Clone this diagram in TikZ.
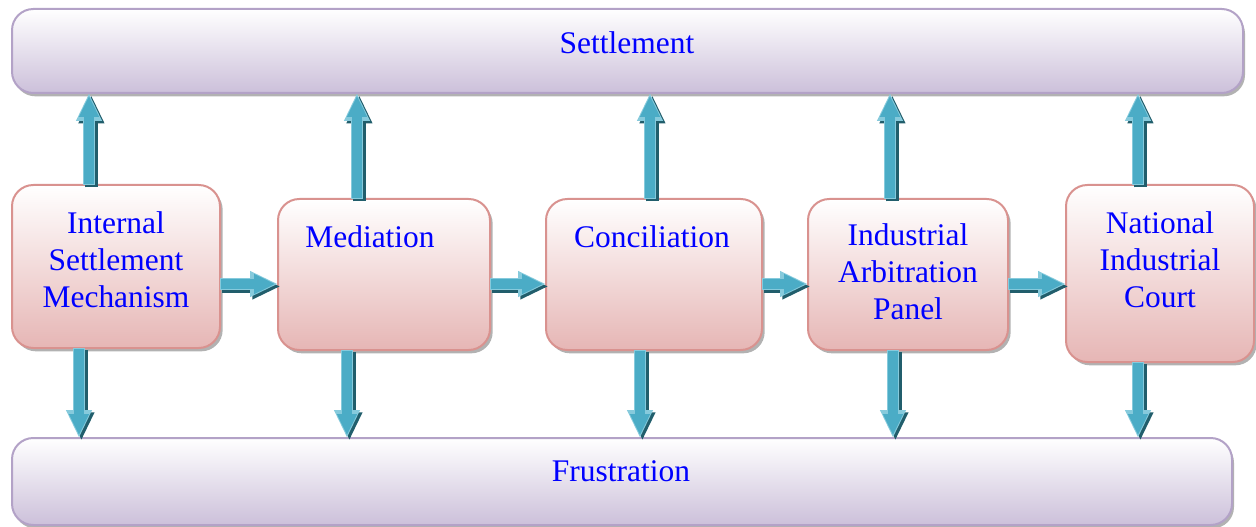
\documentclass[tikz,border=0pt]{standalone}
\usepackage{fontspec}
\setmainfont{Liberation Serif}
\usetikzlibrary{arrows.meta,shadows,calc}
\definecolor{boxbot}{HTML}{E6B6B5}
\definecolor{boxborder}{HTML}{D9928F}
\definecolor{barbot}{HTML}{CCC0DA}
\definecolor{barborder}{HTML}{B3A2C7}
\definecolor{arrteal}{HTML}{4BACC6}
\definecolor{arrlight}{HTML}{86CADC}
\definecolor{arrdark}{HTML}{215E6C}
\definecolor{txtblue}{HTML}{0000FF}
\newcommand\blockarrow[2]{%
  \draw[arrshadow] #1 -- #2;
  \draw[arrouter] #1 -- #2;
  \draw[arrinner] #1 -- #2;}
\begin{document}
\begin{tikzpicture}[x=0.75pt,y=-0.75pt,
  stagebox/.style={draw=boxborder, line width=1.5pt, rounded corners=16pt,
    top color=white, bottom color=boxbot, inner sep=0pt, outer sep=0pt,
    drop shadow={shadow xshift=2pt, shadow yshift=-2.5pt, fill=gray!60, opacity=1}},
  barbox/.style={draw=barborder, line width=1.5pt, rounded corners=16pt,
    top color=white, bottom color=barbot, inner sep=0pt, outer sep=0pt,
    drop shadow={shadow xshift=1.5pt, shadow yshift=-2.5pt, fill=gray!60, opacity=1}},
  lbl/.style={text=txtblue, align=center, inner sep=0pt,
    font=\fontsize{23.6}{27.75}\selectfont},
  arrshadow/.style={draw=arrdark, line width=9.5pt, -{Triangle[width=18pt,length=21pt]},
    transform canvas={shift={(1.8pt,-1.8pt)}}},
  arrouter/.style={draw=arrlight, line width=9.5pt, -{Triangle[width=18pt,length=21pt]}},
  arrinner/.style={draw=arrteal, line width=7pt, -{Triangle[width=14pt,length=16pt]},
    shorten >=2pt, shorten <=0.8pt}]
\useasboundingbox (0,0) rectangle (1256,527);
% bars
\node[barbox, minimum width=1231*0.75pt, minimum height=84*0.75pt] (S) at (627.5,51) {};
\node[barbox, minimum width=1220*0.75pt, minimum height=87*0.75pt] (F) at (622,481.5) {};
% stage boxes
\node[stagebox, minimum width=208*0.75pt, minimum height=163*0.75pt] (b1) at (116,266.5) {};
\node[stagebox, minimum width=212*0.75pt, minimum height=151*0.75pt] (b2) at (384,274.5) {};
\node[stagebox, minimum width=216*0.75pt, minimum height=151*0.75pt] (b3) at (654,274.5) {};
\node[stagebox, minimum width=200*0.75pt, minimum height=151*0.75pt] (b4) at (908,274.5) {};
\node[stagebox, minimum width=188*0.75pt, minimum height=177*0.75pt] (b5) at (1160,273.5) {};
% labels
\node[lbl] (tS) at (627,43) {Settlement};
\node[lbl] (tF) at (621,471) {Frustration};
\node[lbl] (t1) at (116,260) {Internal\\Settlement\\Mechanism};
\node[lbl] (t2) at (370,237) {Mediation};
\node[lbl] (t3) at (652,237) {Conciliation};
\node[lbl] (t4) at (908,272) {Industrial\\Arbitration\\Panel};
\node[lbl] (t5) at (1160,260) {National\\Industrial\\Court};
% arrow positions
\coordinate (u1) at (89,0);
\coordinate (u2) at (357,0);
\coordinate (u3) at (650,0);
\coordinate (u4) at (890,0);
\coordinate (u5) at (1138,0);
\coordinate (d1) at (79,0);
\coordinate (d2) at (347,0);
\coordinate (d3) at (640,0);
\coordinate (d4) at (893,0);
\coordinate (d5) at (1138,0);
\coordinate (h) at (0,284);
% up arrows
\blockarrow{(b1.north -| u1)}{(S.south -| u1)}
\blockarrow{(b2.north -| u2)}{(S.south -| u2)}
\blockarrow{(b3.north -| u3)}{(S.south -| u3)}
\blockarrow{(b4.north -| u4)}{(S.south -| u4)}
\blockarrow{(b5.north -| u5)}{(S.south -| u5)}
% down arrows
\blockarrow{(b1.south -| d1)}{(F.north -| d1)}
\blockarrow{(b2.south -| d2)}{(F.north -| d2)}
\blockarrow{(b3.south -| d3)}{(F.north -| d3)}
\blockarrow{(b4.south -| d4)}{(F.north -| d4)}
\blockarrow{(b5.south -| d5)}{(F.north -| d5)}
% horizontal arrows
\blockarrow{(b1.east |- h)}{(b2.west |- h)}
\blockarrow{(b2.east |- h)}{(b3.west |- h)}
\blockarrow{(b3.east |- h)}{(b4.west |- h)}
\blockarrow{(b4.east |- h)}{(b5.west |- h)}
\end{tikzpicture}
\end{document}
